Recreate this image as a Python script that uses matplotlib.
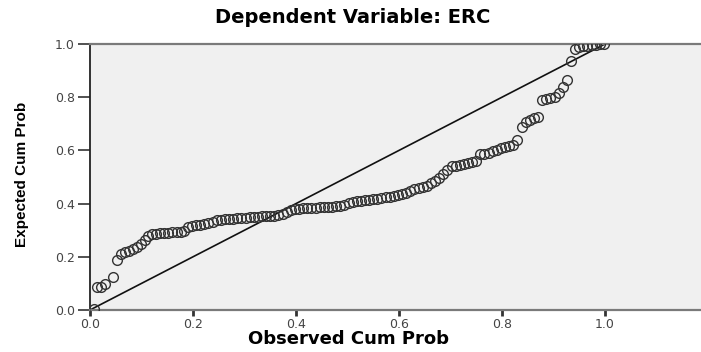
import matplotlib
matplotlib.use("Agg")
import matplotlib.pyplot as plt

# P-P plot values (observed vs expected cumulative prob)
observed_cum_prob = [
    0.008, 0.014, 0.022, 0.030, 0.045, 0.052, 0.060, 0.068, 0.076, 0.084,
    0.091, 0.099, 0.106, 0.113, 0.120, 0.128, 0.136, 0.144, 0.152, 0.160,
    0.168, 0.176, 0.183, 0.190, 0.198, 0.206, 0.214, 0.222, 0.230, 0.238,
    0.246, 0.254, 0.262, 0.270, 0.278, 0.286, 0.294, 0.302, 0.310, 0.318,
    0.326, 0.334, 0.342, 0.350, 0.358, 0.366, 0.374, 0.382, 0.390, 0.398,
    0.406, 0.414, 0.422, 0.430, 0.438, 0.446, 0.454, 0.462, 0.470, 0.478,
    0.486, 0.494, 0.502, 0.510, 0.518, 0.526, 0.534, 0.542, 0.550, 0.558,
    0.566, 0.574, 0.582, 0.590, 0.598, 0.606, 0.614, 0.622, 0.630, 0.638,
    0.646, 0.654, 0.662, 0.670, 0.678, 0.686, 0.694, 0.702, 0.710, 0.718,
    0.726, 0.734, 0.742, 0.750, 0.758, 0.766, 0.774, 0.782, 0.790, 0.798,
    0.806, 0.814, 0.822, 0.830, 0.838, 0.846, 0.854, 0.862, 0.870, 0.878,
    0.886, 0.894, 0.902, 0.910, 0.918, 0.926, 0.934, 0.942, 0.950, 0.958,
    0.966, 0.974, 0.982, 0.990, 0.998,
]
expected_cum_prob = [
    0.005, 0.085, 0.086, 0.098, 0.124, 0.188, 0.212, 0.217, 0.222, 0.228,
    0.236, 0.250, 0.265, 0.280, 0.284, 0.286, 0.288, 0.289, 0.291, 0.292,
    0.293, 0.295, 0.298, 0.312, 0.316, 0.318, 0.320, 0.322, 0.326, 0.332,
    0.338, 0.340, 0.341, 0.342, 0.343, 0.344, 0.345, 0.346, 0.348, 0.349,
    0.350, 0.352, 0.353, 0.354, 0.355, 0.357, 0.360, 0.368, 0.376, 0.380,
    0.381, 0.382, 0.383, 0.384, 0.385, 0.386, 0.387, 0.388, 0.389, 0.390,
    0.392, 0.396, 0.402, 0.405, 0.408, 0.410, 0.412, 0.414, 0.416, 0.418,
    0.420, 0.423, 0.426, 0.430, 0.433, 0.436, 0.440, 0.446, 0.456, 0.460,
    0.464, 0.468, 0.476, 0.486, 0.496, 0.510, 0.527, 0.540, 0.543, 0.546,
    0.549, 0.552, 0.556, 0.562, 0.585, 0.588, 0.591, 0.596, 0.603, 0.610,
    0.614, 0.618, 0.622, 0.640, 0.688, 0.708, 0.714, 0.720, 0.726, 0.788,
    0.792, 0.796, 0.802, 0.816, 0.838, 0.865, 0.935, 0.982, 0.990, 0.992,
    0.994, 0.996, 0.998, 0.999, 1.000,
]
ref_line = [0.0, 1.0]
ticks = [0.0, 0.2, 0.4, 0.6, 0.8, 1.0]
tick_labels = ["0.0", "0.2", "0.4", "0.6", "0.8", "1.0"]

fig = plt.figure(figsize=(7.01, 3.52), dpi=100)
ax = fig.add_axes([90 / 701, 42 / 352, 618 / 701, 266 / 352])
ax.set_facecolor("#f0f0f0")

ax.plot(ref_line, ref_line, color="#111111", lw=1.2, zorder=2)
ax.plot(observed_cum_prob, expected_cum_prob, linestyle="none", marker="o",
        markersize=7, markerfacecolor="none", markeredgecolor="#333333",
        markeredgewidth=1.0, zorder=3)

ax.set_xlim(0, 1.2)
ax.set_ylim(0, 1.0)
ax.set_xticks(ticks)
ax.set_xticklabels(tick_labels)
ax.set_yticks(ticks)
ax.set_yticklabels(tick_labels)

for side in ["top", "bottom"]:
    ax.spines[side].set_color("#7a7a7a")
    ax.spines[side].set_linewidth(1.6)
ax.spines["left"].set_color("#222222")
ax.spines["left"].set_linewidth(1.3)
ax.spines["right"].set_visible(False)

ax.tick_params(axis="y", direction="out", length=9, width=1.2, colors="#333333",
               labelsize=9, pad=2)
ax.tick_params(axis="x", direction="out", length=4, width=2, colors="#333333",
               labelsize=9, pad=2)
for lab in ax.get_xticklabels() + ax.get_yticklabels():
    lab.set_family("DejaVu Sans")
    lab.set_color("#444444")

fig.text(0.503, 0.95, "Dependent Variable: ERC", ha="center", va="center",
         fontsize=14, fontweight="bold", family="DejaVu Sans")
fig.text(0.497, 0.037, "Observed Cum Prob", ha="center", va="center",
         fontsize=13, fontweight="bold", family="DejaVu Sans")
fig.text(0.032, 0.505, "Expected Cum Prob", ha="center", va="center",
         rotation=90, fontsize=11, fontweight="bold",
         family=["Liberation Sans Narrow", "Liberation Sans", "DejaVu Sans"])

fig.savefig("out.png", dpi=100)
